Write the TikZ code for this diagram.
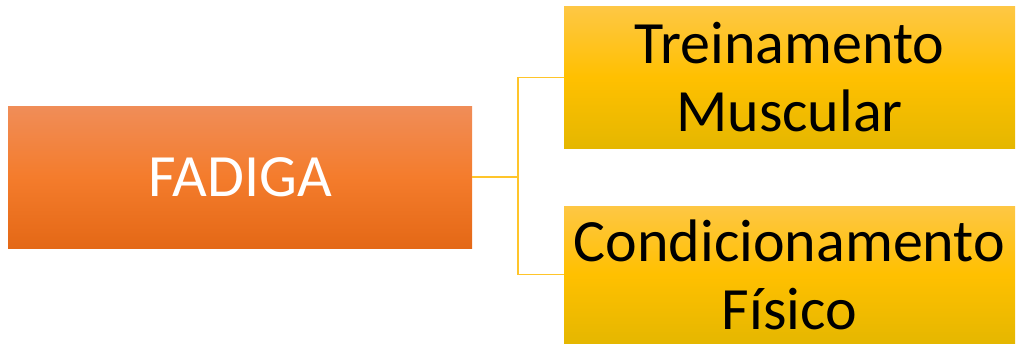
\documentclass[tikz,border=0pt]{standalone}
\usepackage{fontspec}
\setmainfont{Carlito}
\definecolor{orangetop}{HTML}{F08D58}
\definecolor{orangemid}{HTML}{F47C2C}
\definecolor{orangebot}{HTML}{E46816}
\definecolor{goldtop}{HTML}{FEC744}
\definecolor{goldmid}{HTML}{FFC000}
\definecolor{goldbot}{HTML}{E5B700}
\definecolor{linkgold}{HTML}{FFC52A}
\begin{document}
\begin{tikzpicture}[
        x=1pt,
        y=-1pt,
        bigtext/.style={font=\fontsize{60}{68}\selectfont},
        fadigabox/.style={bigtext, inner sep=0pt, minimum width=464pt, minimum height=142pt,
            top color=orangetop, bottom color=orangebot, middle color=orangemid, text=white},
        goldbox/.style={bigtext, inner sep=0pt, align=center, minimum width=451pt, minimum height=141pt,
            top color=goldtop, bottom color=goldbot, middle color=goldmid, text=black},
        link/.style={draw=linkgold, line width=1.3pt}
    ]
    \useasboundingbox (0,0) rectangle (1017,345);

    \node [fadigabox] (fadiga) at (240,177) {FADIGA};
    \node [goldbox] (treino) at (789.5,77.5) {Treinamento\\Muscular};
    \node [goldbox, minimum height=137pt] (cond) at (789.5,274.5) {Condicionamento\\Físico};

    \coordinate (split) at (518,177);
    \draw [link] (fadiga.east) -- (split) |- (treino.west);
    \draw [link] (split) |- (cond.west);
\end{tikzpicture}
\end{document}
